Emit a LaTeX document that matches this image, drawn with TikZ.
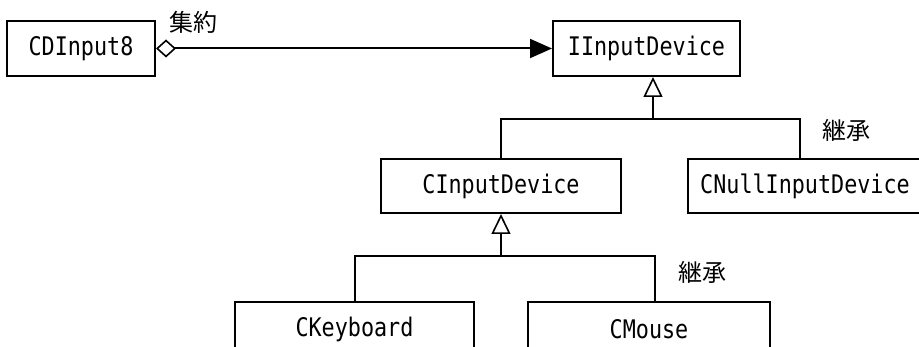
\documentclass[tikz,border=0pt]{standalone}
\usepackage{fontspec}
\usetikzlibrary{arrows.meta,calc}
\newfontfamily\lblfont[FakeStretch=0.85]{DejaVu Sans Mono}
\newfontfamily\cjkfont{Noto Sans CJK JP}
\begin{document}
\begin{tikzpicture}[x=1pt,y=-1pt,
  cls/.style={draw, line width=2pt, rectangle, inner sep=0pt,
    font=\lblfont\fontsize{25.6pt}{30pt}\selectfont},
  lbl/.style={font=\cjkfont\fontsize{24pt}{28pt}\selectfont, inner sep=0pt},
  conn/.style={line width=2pt},
  inh/.style={conn, -{Triangle[open, fill=white, length=20pt, width=19pt, line width=1.6pt]}},
  agg/.style={conn, {Diamond[open, fill=white, length=20pt, width=18pt, line width=1.6pt]}-{Triangle[length=22pt, width=19pt]}}
]
\useasboundingbox (0,0) rectangle (919,347);
\clip (0,0) rectangle (919,347);
\fill[white] (0,0) rectangle (919,347);

\node[cls, minimum width=148pt, minimum height=55pt] (cdinput) at (81,48.5) {CDInput8};
\node[cls, minimum width=187pt, minimum height=55pt] (iinput) at (646.5,48.5) {IInputDevice};
\node[cls, minimum width=240pt, minimum height=54pt] (cinput) at (501,186) {CInputDevice};
\node[cls, minimum width=234pt, minimum height=54pt] (cnull) at (805,186) {CNullInputDevice};
\node[cls, minimum width=239pt, minimum height=54pt] (ckey) at (354.5,329) {CKeyboard};
\node[cls, minimum width=242pt, minimum height=54pt] (cmouse) at (649,329) {CMouse};

\node[lbl] (agglbl) at (193,22) {集約};
\node[lbl] (inh1) at (846,130) {継承};
\node[lbl] (inh2) at (702,272) {継承};

\draw[agg] (cdinput.east) -- (iinput.west);

\coordinate (j1) at (653,119);
\draw[conn] (cinput.north) |- (j1) -| ([xshift=-5pt]cnull.north);
\draw[inh] (j1) -- (iinput.south -| j1);

\coordinate (j2) at (501,256);
\draw[conn] (ckey.north) |- (j2) -| ([xshift=6pt]cmouse.north);
\draw[inh] (j2) -- (cinput.south);
\end{tikzpicture}
\end{document}
